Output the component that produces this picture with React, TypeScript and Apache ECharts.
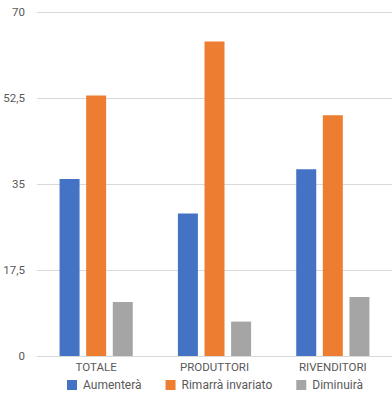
import React, { useEffect, useRef } from "react";
import * as echarts from "echarts";

const categories = ["TOTALE", "PRODUTTORI", "RIVENDITORI"];
const seriesNames = ["Aumenterà", "Rimarrà invariato", "Diminuirà"];
const aumentera = [36, 29, 38];
const rimarra = [53, 64, 49];
const diminuira = [11, 7, 12];
const colors = ["#4472C4", "#ED7D31", "#A5A5A5"];

export default function App() {
  const ref = useRef<HTMLDivElement>(null);
  useEffect(() => {
    const chart = echarts.init(ref.current!, null, { renderer: "svg" });
    const font = "Roboto";
    const values = [aumentera, rimarra, diminuira];
    chart.setOption({
      animation: false,
      color: colors,
      textStyle: { fontFamily: font },
      grid: { left: 37, right: -5, top: 12, bottom: 41, containLabel: false },
      legend: {
        top: 379,
        left: 67,
        padding: 0,
        itemWidth: 10,
        itemHeight: 10,
        itemGap: 24,
        icon: "rect",
        textStyle: { fontFamily: font, fontSize: 12, color: "#595959", padding: [0, 0, 0, 1] },
        data: seriesNames,
      },
      xAxis: {
        type: "category",
        data: categories,
        axisLine: { show: true, lineStyle: { color: "#D9D9D9", width: 1 } },
        axisTick: { show: false },
        axisLabel: { fontFamily: font, fontSize: 11.5, color: "#595959", margin: 5 },
      },
      yAxis: {
        type: "value",
        min: 0,
        max: 70,
        interval: 17.5,
        axisLine: { show: false },
        axisTick: { show: false },
        splitLine: { lineStyle: { color: "#D9D9D9", width: 1 } },
        axisLabel: {
          fontFamily: font,
          fontSize: 11.5,
          color: "#595959",
          margin: 12,
          formatter: (v: number) => String(v).replace(".", ","),
        },
      },
      series: seriesNames.map((name, i) => ({
        name,
        type: "bar",
        data: values[i],
        barWidth: 20,
        barGap: "33%",
        itemStyle: { color: colors[i] },
      })),
    });
    return () => chart.dispose();
  }, []);
  return (
    <div
      ref={ref}
      style={{ position: "absolute", left: 0, top: 0, width: 392, height: 397, background: "#fff" }}
    />
  );
}
